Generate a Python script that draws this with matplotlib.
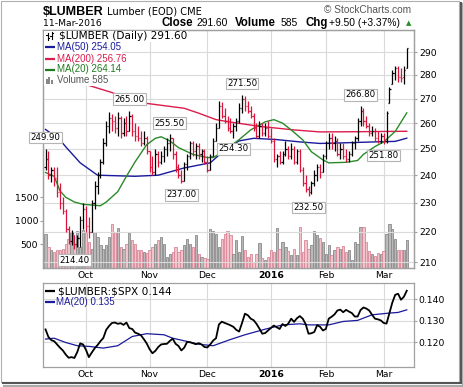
import numpy as np
import pandas as pd
import matplotlib
matplotlib.use("Agg")
import matplotlib.pyplot as plt
from matplotlib.lines import Line2D
from matplotlib.patches import Rectangle
import matplotlib.ticker as mticker

plt.rcParams['font.family'] = ['DejaVu Sans']
plt.rcParams['text.parse_math'] = False

# ---------------- data ----------------
holidays = ["2015-11-26", "2015-12-25", "2016-01-01", "2016-01-18", "2016-02-15"]
dates = [d for d in pd.bdate_range("2015-09-11", "2016-03-11")
         if d.strftime("%Y-%m-%d") not in holidays]

opens = [243, 246, 240, 242, 239, 234, 230, 227, 221, 217,
         219, 216, 218, 224, 228, 222, 220, 230, 236, 240,
         245, 252, 259, 262, 261, 258, 262, 256, 260, 257,
         263, 257, 255, 254, 252, 254, 249, 243, 241, 248,
         245, 247, 250, 252, 254, 248, 243, 240, 238, 244,
         247, 252, 249, 251, 248, 249, 245, 242, 247, 253,
         258, 267, 263, 261, 258, 257, 259, 261, 266, 270,
         267, 265, 263, 258, 255, 259, 256, 258, 255, 253,
         246, 247, 245, 248, 250, 247, 250, 245, 249, 242,
         237, 235, 234, 237, 240, 243, 241, 247, 252, 254,
         252, 253, 248, 250, 247, 246, 248, 252, 254, 261,
         265, 261, 259, 256, 257, 254, 253, 255, 253, 268,
         276, 281, 283, 279, 279, 283]
highs = [249.9, 249, 243, 243, 243, 237, 232, 228, 222, 220.5,
         219, 219, 225.5, 230, 229, 225, 231, 238, 241, 246,
         254, 261, 264.5, 263.5, 263, 264.5, 263, 262, 263, 265,
         263.5, 260, 259, 257, 257, 255, 249, 247, 250, 249,
         249, 251, 254, 255.5, 254, 249, 244, 242, 245, 248,
         253, 253, 252, 252, 250, 250, 247, 248, 254, 260,
         269, 268.5, 266, 263, 262, 260, 262, 268, 271.5, 271,
         269, 267, 264, 260, 261, 260, 260, 261, 258, 254,
         248, 249, 249, 253, 251, 252, 251, 250, 250, 243,
         240, 236, 238, 242, 244, 244, 248, 253, 256, 256,
         255, 254, 252, 252, 250, 249, 253, 255, 262, 266.8,
         266, 263, 260, 259, 258, 257, 256, 256, 265, 275,
         282, 284, 284, 283, 284, 291.6]
lows = [242, 238.5, 237.5, 236, 232, 228, 226, 220, 216, 215.5,
        214.4, 215, 215, 221, 220, 218, 220, 228, 233, 239,
        244, 251, 256, 257, 256, 255, 254, 255, 255, 257,
        255, 253, 253, 251, 251.5, 248, 241, 240, 240, 243,
        244, 245, 247, 249, 246, 241, 239, 237, 238, 242,
        246, 247, 246, 246, 245, 244, 241, 242, 247, 253,
        258, 262, 260, 257, 256, 254.3, 257, 260, 264, 265,
        264, 262, 257, 254, 254, 255, 255, 254, 252, 245,
        243, 244, 244, 247, 246, 246, 244, 244, 241, 236,
        234, 232.5, 233, 236, 238, 239, 241, 246, 250, 250,
        249, 247, 246, 246, 245, 245, 247, 250, 253, 259,
        259, 258, 255, 255, 253, 252, 252, 251.8, 252, 268,
        276, 278, 277, 277, 276, 283]
closes = [246, 240, 242, 238.5, 234, 230, 227, 221, 217, 219.5,
          216, 218, 224, 228, 222, 220, 230, 236, 240, 245,
          252, 259, 262, 261, 258, 262, 256, 260, 257, 263,
          257, 255, 254, 252, 254, 249, 243, 241, 248, 245,
          247, 250, 252, 254, 248, 243, 240, 238, 244, 247,
          252, 249, 251, 248, 249, 245, 242, 247, 253, 258,
          267, 263, 261, 258, 257, 259, 261, 266, 270, 267,
          265, 263, 258, 255, 259, 256, 258, 255, 253, 246,
          247, 245, 248, 250, 247, 250, 245, 249, 242, 237,
          235, 234, 237, 240, 243, 241, 247, 252, 254, 252,
          253, 248, 250, 247, 246, 248, 252, 254, 261, 265,
          261, 259, 256, 257, 254, 253, 255, 253, 264, 274,
          281, 283, 279, 278.5, 282.1, 291.6]
volume = [720, 440, 390, 340, 390, 390, 410, 515, 620, 760,
          515, 790, 445, 805, 760, 550, 410, 760, 650, 480,
          410, 480, 650, 930, 760, 845, 445, 410, 515, 735,
          600, 515, 375, 375, 340, 320, 375, 445, 515, 585,
          655, 515, 235, 305, 340, 445, 340, 375, 480, 620,
          515, 445, 690, 305, 235, 220, 200, 825, 790, 720,
          445, 620, 720, 790, 690, 305, 583, 340, 667, 375,
          236, 292, 132, 292, 535, 201, 167, 236, 375, 340,
          847, 410, 549, 444, 361, 271, 410, 271, 875, 340,
          583, 410, 479, 792, 688, 632, 549, 305, 479, 285,
          375, 444, 410, 458, 340, 375, 167, 549, 514, 875,
          861, 549, 361, 292, 250, 319, 305, 361, 722, 930,
          826, 618, 389, 375, 375, 585]
ratio = [0.126, 0.1225, 0.121, 0.1205, 0.119, 0.1175, 0.1162, 0.1143, 0.1128, 0.1131,
         0.1127, 0.1155, 0.1195, 0.119, 0.1165, 0.1131, 0.1152, 0.1172, 0.1187, 0.1205,
         0.122, 0.1258, 0.1276, 0.129, 0.1292, 0.1286, 0.1289, 0.1281, 0.1292, 0.1266,
         0.1262, 0.1245, 0.124, 0.1233, 0.1215, 0.1195, 0.1168, 0.1149, 0.116, 0.1178,
         0.119, 0.1192, 0.1193, 0.1206, 0.1217, 0.1193, 0.1183, 0.1162, 0.1175, 0.1202,
         0.12, 0.1196, 0.1191, 0.1196, 0.119, 0.1178, 0.1176, 0.119, 0.1208, 0.1219,
         0.1283, 0.1296, 0.129, 0.1285, 0.1279, 0.1272, 0.1258, 0.125, 0.129, 0.1333,
         0.1326, 0.131, 0.1303, 0.1286, 0.1264, 0.124, 0.1243, 0.1255, 0.1267, 0.1278,
         0.127, 0.1262, 0.1285, 0.1276, 0.1287, 0.131, 0.1295, 0.1312, 0.1322, 0.131,
         0.1285, 0.124, 0.1242, 0.1248, 0.128, 0.1272, 0.1255, 0.1262, 0.131, 0.1319,
         0.133, 0.1348, 0.1352, 0.134, 0.1351, 0.1343, 0.1336, 0.132, 0.132, 0.135,
         0.1362, 0.1357, 0.1348, 0.1328, 0.131, 0.1307, 0.1302, 0.129, 0.1287, 0.1336,
         0.1385, 0.1421, 0.1426, 0.1398, 0.1412, 0.144]

# moving averages (trading-day number from 11-Sep-2015, value)
ma20_day = [0, 3, 5, 7, 10, 13, 19, 21, 25, 28, 31, 35, 38, 40, 43, 46, 51, 56, 58, 61,
            64, 67, 71, 76, 79, 82, 85, 89, 92, 96, 98, 104, 108, 110, 114, 117, 121, 125]
ma20_val = [241, 239.6, 234.3, 232, 230.3, 229.5, 229, 230.3, 234, 239.6, 245, 251.5, 254,
            254.6, 253, 250.4, 247.8, 246.6, 246.6, 248.5, 251, 253.5, 257.3, 260.5, 261.4,
            260, 257.3, 253.4, 248.8, 245.7, 244.6, 244.8, 245.5, 247.8, 250.8, 252.6,
            256.7, 264.14]
ma50_day = [0, 5, 7, 12, 18, 31, 39, 48, 57, 61, 64, 67, 72, 80, 88, 95, 102, 114, 121, 125]
ma50_val = [257.5, 253.4, 250.7, 244.6, 240, 239.6, 240, 242.7, 244.6, 248.5, 251, 253,
            254, 253.5, 252.6, 252, 252.2, 252.6, 252.8, 254.05]
ma200_day = [0, 15, 23, 28, 35, 48, 53, 59, 63, 74, 86, 95, 109, 125]
ma200_val = [278, 275.5, 272.5, 270.3, 268, 266, 264, 261.4, 260.6, 258.7, 257.3, 256.5,
             256.6, 256.76]
rma_day = [0, 3, 7, 11, 15, 20, 25, 30, 35, 41, 44, 49, 53, 58, 64, 69, 76, 82, 88, 91,
           98, 103, 108, 113, 119, 122, 125]
rma_val = [0.1215, 0.1219, 0.1199, 0.1184, 0.1181, 0.1173, 0.1184, 0.1227, 0.124, 0.1235,
           0.1219, 0.1204, 0.1191, 0.1184, 0.1213, 0.1235, 0.1261, 0.1281, 0.1286, 0.1281,
           0.1281, 0.1297, 0.1302, 0.1328, 0.1336, 0.1339, 0.1351]

label_vals = [249.90, 214.40, 265.00, 255.50, 237.00, 254.30, 271.50, 232.50, 266.80, 251.80]
label_kind = ['H', 'L', 'H', 'H', 'L', 'L', 'H', 'L', 'H', 'L']

price_ticks = [210, 220, 230, 240, 250, 260, 270, 280, 290]
vol_ticks = [500, 1000, 1500]
ratio_ticks = [0.120, 0.130, 0.140]

# ---------------- figure ----------------
W, H = 464, 387
fig = plt.figure(figsize=(W / 100, H / 100), dpi=100)
fig.patch.set_facecolor('white')


def rect(l, t, r, b):
    return [l / W, 1 - b / H, (r - l) / W, (b - t) / H]


def P(xp, yp):
    return xp / W, 1 - yp / H


def pline(xs, ys, **kw):
    fig.add_artist(Line2D([v / W for v in xs], [1 - v / H for v in ys], **kw))


o = np.array(opens, float); h = np.array(highs, float)
l = np.array(lows, float); c = np.array(closes, float)
vol = np.array(volume, float)
n = len(c)
x = np.arange(n)
up = np.concatenate([[True], c[1:] >= c[:-1]])
RED = '#dc143c'
bar_cols = np.where(up, 'black', RED)

spine_col = '#a0a0a0'
grid_col = '#dadada'
tick_fs = 6.7

ax_v = fig.add_axes(rect(43, 30, 414, 268))
ax_p = ax_v.twinx()
ax_r = fig.add_axes(rect(43, 283, 414, 367), sharex=ax_v)

# volume
vface = np.where(up, '#b9b9b9', '#f3c2ca')
vedge = np.where(up, '#8a8a8a', '#d98797')
ax_v.bar(x, vol, width=0.8, color=vface, edgecolor=vedge, linewidth=0.6, zorder=2)
ax_v.set_ylim(0, 5030)
ax_v.set_yticks(vol_ticks)
ax_v.set_yticklabels([str(v) for v in vol_ticks])
ax_v.set_xlim(-0.87, 127.5)

# price
ax_p.set_yscale('log')
ax_p.set_ylim(208.1, 300)
ax_p.set_yticks(price_ticks)
ax_p.yaxis.set_major_formatter(mticker.FuncFormatter(lambda v, p: f"{v:.0f}"))
ax_p.yaxis.set_minor_locator(mticker.NullLocator())
ax_p.set_axisbelow(True)
ax_p.grid(True, axis='y', color=grid_col, lw=0.8, zorder=0)
ax_v.grid(True, axis='x', color=grid_col, lw=0.8)
ax_v.set_axisbelow(True)

ax_p.vlines(x, l, h, colors=bar_cols, lw=0.9, zorder=3)
ax_p.hlines(o, x - 0.42, x, colors=bar_cols, lw=0.9, zorder=3)
ax_p.hlines(c, x, x + 0.42, colors=bar_cols, lw=0.9, zorder=3)

ax_p.plot(ma200_day, ma200_val, color='#dc1c4b', lw=1.0, zorder=2.5)
ax_p.plot(ma50_day, ma50_val, color='#1a1a9c', lw=1.0, zorder=2.5)
ax_p.plot(ma20_day, ma20_val, color='#2a8a2a', lw=1.0, zorder=2.5)

for v, k in zip(label_vals, label_kind):
    if k == 'H':
        idx = int(np.argmin(np.abs(h - v))); yy = h[idx]; off = 5; va = 'bottom'
    else:
        idx = int(np.argmin(np.abs(l - v))); yy = l[idx]; off = -5; va = 'top'
    ax_p.annotate(f"{v:.2f}", (idx, yy), xytext=(0, off), textcoords='offset points',
                  ha='center', va=va, fontsize=6.2, color='black', zorder=10,
                  annotation_clip=False,
                  bbox=dict(boxstyle='square,pad=0.15', fc='white', ec='#b5b5b5', lw=0.8))

# ratio panel
ax_r.plot(x, ratio, color='black', lw=1.3, zorder=3)
ax_r.plot(rma_day, rma_val, color='#1a1a9c', lw=0.9, zorder=2)
ax_r.set_ylim(0.1085, 0.1476)
ax_r.yaxis.tick_right()
ax_r.set_yticks(ratio_ticks)
ax_r.yaxis.set_major_formatter(mticker.FuncFormatter(lambda v, p: f"{v:.3f}"))
ax_r.grid(True, color=grid_col, lw=0.8)
ax_r.set_axisbelow(True)

# month ticks
month_pos = [k for k in range(1, n) if dates[k].month != dates[k - 1].month]
month_lab = [str(dates[k].year) if dates[k].month == 1 else dates[k].strftime('%b')
             for k in month_pos]
for a in (ax_v, ax_r):
    a.set_xticks(month_pos)
    a.set_xticklabels(month_lab)
    a.tick_params(axis='x', length=0, pad=2.5, labelsize=tick_fs)
    for t in a.get_xticklabels():
        if t.get_text().isdigit():
            t.set_fontweight('bold')
ax_v.tick_params(axis='y', length=2, pad=1.5, labelsize=tick_fs, color=spine_col)
ax_p.tick_params(axis='y', length=2, pad=1.5, labelsize=tick_fs, color=spine_col)
ax_r.tick_params(axis='y', length=2, pad=1.5, labelsize=tick_fs, color=spine_col)
for a in (ax_v, ax_p, ax_r):
    for s in a.spines.values():
        s.set_color(spine_col)
        s.set_linewidth(0.9)

# ---------------- header text ----------------
bold_fam = ['Liberation Sans', 'DejaVu Sans']
fig.text(*P(43, 15), "$LUMBER", fontsize=9.0, fontweight='bold',
         family=bold_fam, va='baseline')
fig.text(*P(107, 14), "Lumber (EOD) CME", fontsize=7.1, va='baseline')
fig.text(*P(324, 13), "© StockCharts.com", fontsize=7.3, color='#555555',
         family=bold_fam, va='baseline')
fig.text(*P(43, 26), "11-Mar-2016", fontsize=6.7, va='baseline')
fig.text(*P(162, 26), "Close", fontsize=8.3, fontweight='bold', family=bold_fam, va='baseline')
fig.text(*P(197, 26), "291.60", fontsize=7.4, family=bold_fam, va='baseline')
fig.text(*P(235, 26), "Volume", fontsize=8.3, fontweight='bold', family=bold_fam, va='baseline')
fig.text(*P(281, 26), "585", fontsize=7.4, family=bold_fam, va='baseline')
fig.text(*P(305, 26), "Chg", fontsize=8.3, fontweight='bold', family=bold_fam, va='baseline')
fig.text(*P(329, 26), "+9.50 (+3.37%)", fontsize=7.4, family=bold_fam, va='baseline')
fig.text(*P(409, 23.5), "▲", fontsize=5, color='#2a8a2a', ha='center', va='center')

# ---------------- legends ----------------
leg_items = []
t1 = fig.text(*P(59, 36), "$LUMBER (Daily) 291.60", fontsize=7.6, va='center', zorder=5)
leg_items.append((36, t1))
ma_rows = [(47, "MA(50) 254.05", '#1a1a9c'), (58.5, "MA(200) 256.76", '#dc1c4b'),
           (69.5, "MA(20) 264.14", '#1f7a1f')]
for yy, s, col in ma_rows:
    t = fig.text(*P(57, yy), s, fontsize=7.0, color=col, va='center',
                 family=bold_fam, zorder=5)
    leg_items.append((yy, t))
tv = fig.text(*P(57, 80), "Volume 585", fontsize=7.0, color='#555555', va='center',
              family=bold_fam, zorder=5)
leg_items.append((80, tv))

fig.canvas.draw()
rend = fig.canvas.get_renderer()
for yy, t in leg_items:
    bb = t.get_window_extent(rend)
    right = bb.x1 + 1
    fig.add_artist(Rectangle(P(44, yy + 5.5), (right - 44) / W, 11 / H,
                             transform=fig.transFigure, fc='white', ec='none', zorder=4))

# icons
pline([48, 48], [33, 40], color='black', lw=0.8, zorder=6)
pline([46.5, 48], [35, 35], color='black', lw=0.8, zorder=6)
pline([48, 49.5], [38, 38], color='black', lw=0.8, zorder=6)
pline([52, 52], [32, 39], color='black', lw=0.8, zorder=6)
pline([50.5, 52], [36, 36], color='black', lw=0.8, zorder=6)
pline([52, 53.5], [33, 33], color='black', lw=0.8, zorder=6)
for yy, s, col in ma_rows:
    pline([45, 55], [yy, yy], color=col, lw=1.6, zorder=6, solid_capstyle='butt')
for bx, bh in [(47, 5), (49.5, 7), (52, 4)]:
    fig.add_artist(Rectangle(P(bx - 1, 84), 2 / W, bh / H, transform=fig.transFigure,
                             fc='#888888', ec='none', zorder=6))

# ratio legend
pline([45, 55], [291, 291], color='black', lw=1.6, zorder=6, solid_capstyle='butt')
fig.text(*P(58, 291), "$LUMBER:$SPX 0.144", fontsize=7.6, va='center', zorder=6)
pline([45, 55], [302, 302], color='#1a1a9c', lw=1.6, zorder=6, solid_capstyle='butt')
fig.text(*P(56, 302), "MA(20) 0.135", fontsize=7.0, color='#1a1a9c', va='center',
         family=bold_fam, zorder=6)

# ---------------- frame with shadow ----------------
fig.add_artist(Rectangle(P(0.5, 381.5), 459 / W, 381 / H, transform=fig.transFigure,
                         fc='none', ec='#b0b0b0', lw=0.8, zorder=7))
pline([461, 461], [3, 383], color='#555555', lw=1.5, zorder=7)
pline([463, 463], [4, 385], color='#aaaaaa', lw=1.5, zorder=7)
pline([3, 461], [383, 383], color='#555555', lw=1.5, zorder=7)
pline([4, 463], [385.5, 385.5], color='#aaaaaa', lw=1.5, zorder=7)

fig.savefig("out.png", dpi=100, facecolor='white')
